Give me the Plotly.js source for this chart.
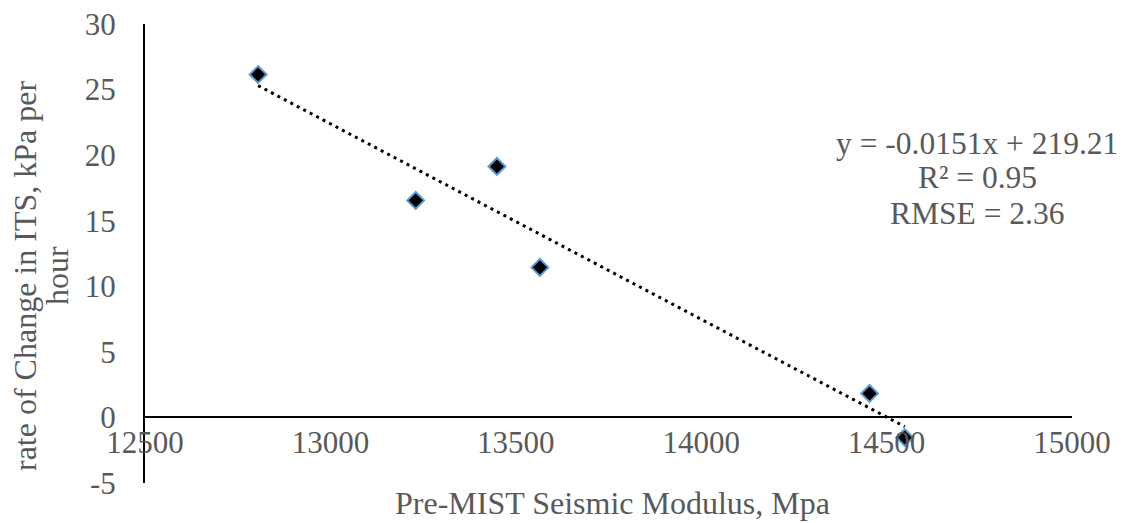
<!DOCTYPE html>
<html>
<head>
<meta charset="utf-8">
<script src="https://cdn.plot.ly/plotly-3.0.1.min.js"></script>
<style>html,body{margin:0;padding:0;background:#fff;}#chart{width:1127px;height:523px;}</style>
</head>
<body>
<div id="chart"></div>
<script>
// Data
const modulus = [12805, 13230, 13449, 13565, 14454, 14549];
const rateITS = [26.15, 16.55, 19.14, 11.44, 1.83, -1.53];
// Linear trendline endpoints (as drawn in the picture)
const trendX = [12805, 14549];
const trendY = [25.3, -0.7];
const xTicks = [12500, 13000, 13500, 14000, 14500, 15000];
const yTicks = [-5, 0, 5, 10, 15, 20, 25, 30];
const eqLines = ["y = -0.0151x + 219.21", "R² = 0.95", "RMSE = 2.36"];
const xTitle = "Pre-MIST Seismic Modulus, Mpa";
const yTitleLines = ["rate of Change in ITS, kPa per", "hour"];

const FONT = "Liberation Serif, Times New Roman, serif";
const GREY = "#595959";

// plot-area geometry in pixels (used only to place text annotations)
const W = 1127, H = 523, L = 145, R = 55, T = 24, B = 40;
const PW = W - L - R, PH = H - T - B;
const px = x => (x - L) / PW;
const py = y => (H - B - y) / PH;

const traces = [
  {
    x: trendX, y: trendY, type: "scatter", mode: "lines",
    line: {color: "#000000", width: 3, dash: "3px,4.3px"},
    hoverinfo: "skip", showlegend: false
  },
  {
    x: modulus, y: rateITS, type: "scatter", mode: "markers",
    marker: {symbol: "diamond", size: 13, color: "#000000",
             line: {color: "#5B9BD5", width: 2}},
    showlegend: false
  }
];

const annotations = [];
eqLines.forEach((t, i) => {
  annotations.push({
    xref: "paper", yref: "paper", x: px(977), y: py(143 + 35 * i),
    xanchor: "center", yanchor: "middle", text: t, showarrow: false,
    font: {family: FONT, color: GREY, size: 31.5}
  });
});
annotations.push({
  xref: "paper", yref: "paper", x: px(612), y: py(503),
  xanchor: "center", yanchor: "middle", text: xTitle, showarrow: false,
  font: {family: FONT, color: GREY, size: 32}
});
yTitleLines.forEach((t, i) => {
  annotations.push({
    xref: "paper", yref: "paper", x: px(25 + 32 * i), y: py(276),
    xanchor: "center", yanchor: "middle", textangle: -90,
    text: t, showarrow: false,
    font: {family: FONT, color: GREY, size: 32}
  });
});

const layout = {
  width: W, height: H,
  margin: {l: L, r: R, t: T, b: B},
  paper_bgcolor: "#ffffff", plot_bgcolor: "#ffffff",
  font: {family: FONT, color: GREY, size: 31},
  showlegend: false,
  xaxis: {
    range: [12500, 15000], tickvals: xTicks, ticktext: xTicks.map(String),
    showgrid: false, zeroline: false,
    showline: true, linecolor: "#000000", linewidth: 2,
    anchor: "free", position: 5 / 35,
    ticks: "", ticklabelstandoff: -3,
    tickfont: {family: FONT, color: GREY, size: 31}
  },
  yaxis: {
    range: [-5, 30], tickvals: yTicks, ticktext: yTicks.map(String),
    showgrid: false, zeroline: false,
    showline: true, linecolor: "#000000", linewidth: 2,
    ticks: "outside", ticklen: 21, tickcolor: "rgba(0,0,0,0)",
    tickfont: {family: FONT, color: GREY, size: 31}
  },
  annotations: annotations
};

Plotly.newPlot("chart", traces, layout, {displayModeBar: false, staticPlot: true});
</script>
</body>
</html>
